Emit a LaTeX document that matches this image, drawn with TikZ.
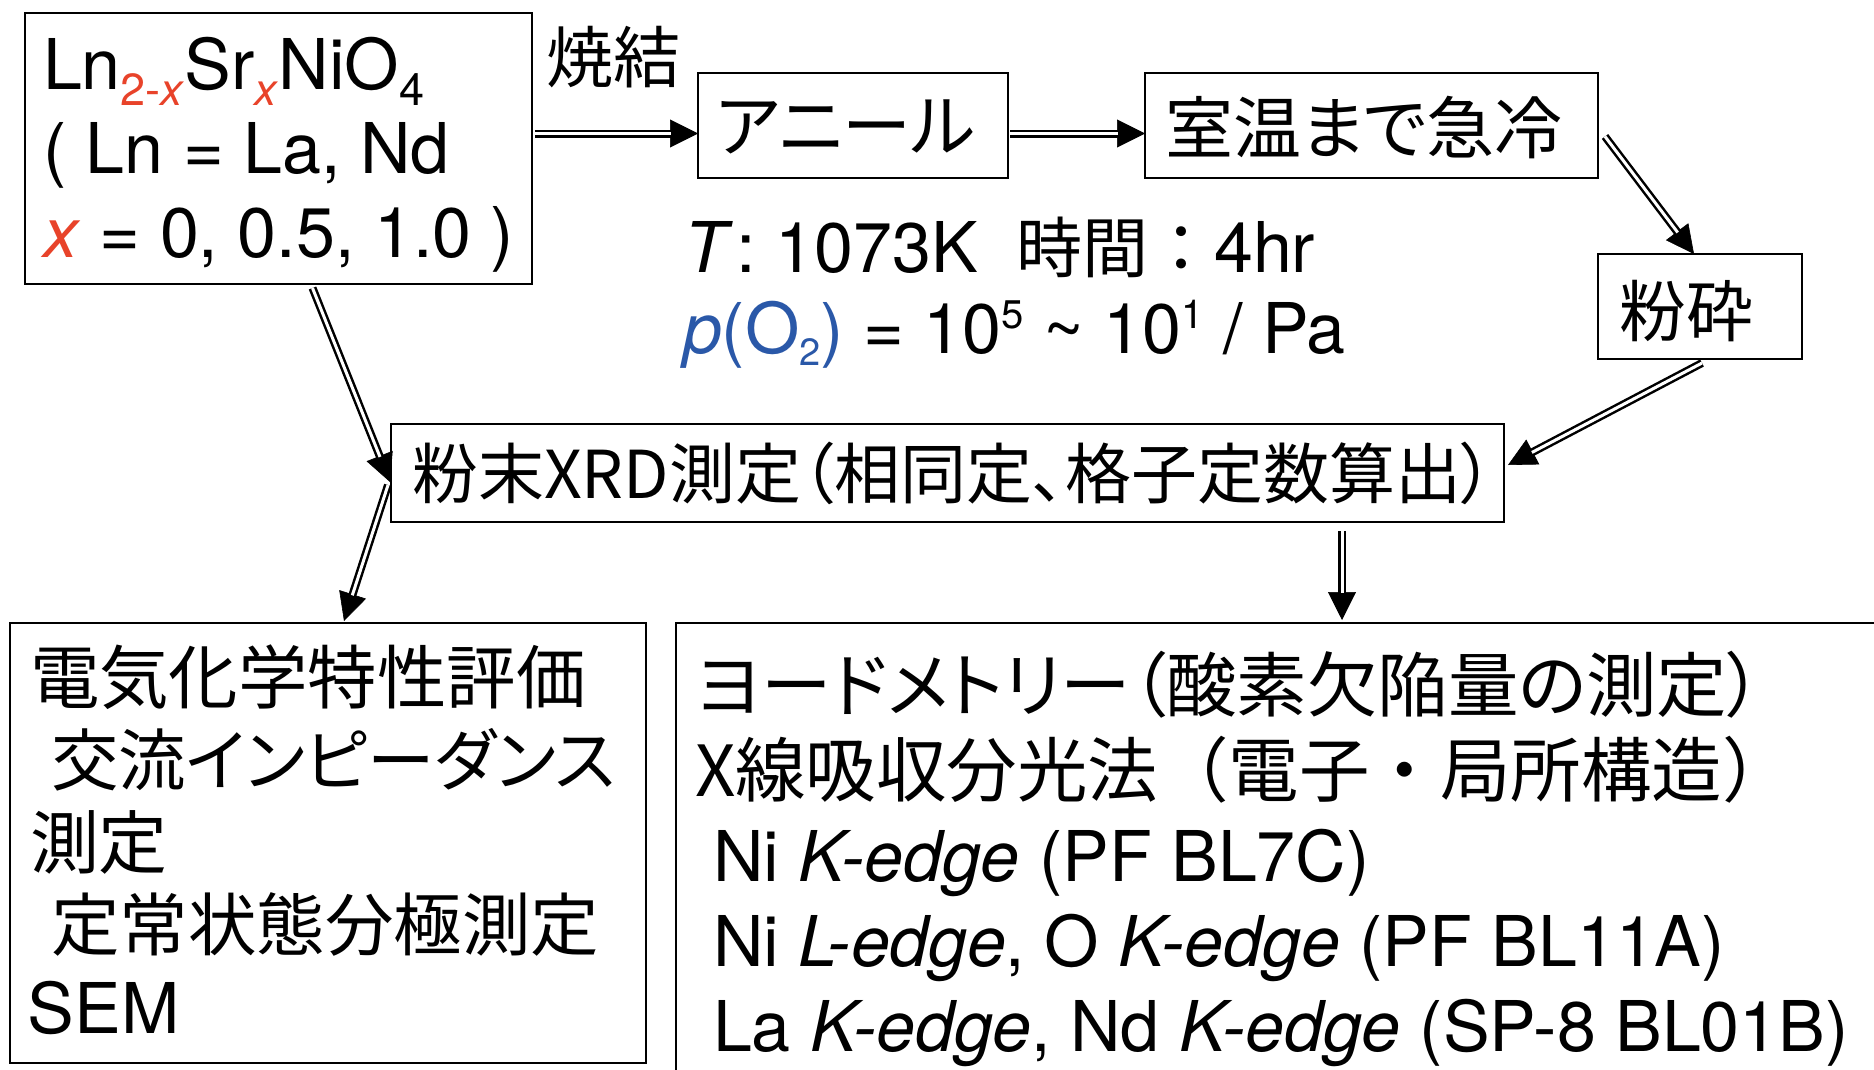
\documentclass[tikz,border=0pt]{standalone}
\usepackage{fontspec}
\setmainfont{TeX Gyre Heros}
\newfontfamily\jp[RawFeature=+palt]{Noto Sans CJK JP}
\newfontfamily\jpf{Noto Sans CJK JP}
\usetikzlibrary{arrows.meta,calc}
\definecolor{xred}{RGB}{232,67,42}
\definecolor{xblue}{RGB}{42,88,168}
\newcommand\setfs[1]{\fontsize{#1pt}{#1pt}\selectfont}
\newcommand\lsub[1]{\raisebox{-16pt}{\setfs{45}#1}}
\newcommand\psub[1]{\raisebox{-12pt}{\setfs{38}#1}}
\newcommand\psup[1]{\raisebox{25pt}{\setfs{40}#1}}
\begin{document}
\begin{tikzpicture}[x=1pt,y=-1pt,
  box/.style={draw, line width=2.5pt, inner sep=0pt, outer sep=0pt, anchor=north west},
  txt/.style={anchor=base west, inner sep=0pt, outer sep=0pt},
  darr/.style={line width=0.6pt, -{Triangle[length=28pt,width=28pt]},
    postaction={draw, -, double, double distance=3pt, line width=2.5pt, shorten >=27pt}}]
\path[use as bounding box, fill=white] (0,0) rectangle (1874,1069);

% boxes
\node[box, minimum width=507pt, minimum height=271pt] (A) at (25,13) {};
\node[box, minimum width=310pt, minimum height=105pt] (ann) at (698,73) {};
\node[box, minimum width=453pt, minimum height=105pt] (cool) at (1145,73) {};
\node[box, minimum width=204pt, minimum height=105pt] (crush) at (1598,254) {};
\node[box, minimum width=1113pt, minimum height=98pt] (xrd) at (391,424) {};
\node[box, minimum width=636pt, minimum height=440pt] (bl) at (10,623) {};
\node[box, minimum width=1300pt, minimum height=500pt] (br) at (676,623) {};

% texts
\node[txt] (tA) at (43,89) {\setfs{70}\vtop{\baselineskip=84pt\lineskiplimit=-1000pt\lineskip=0pt
  \hbox{Ln\lsub{\color{xred}2-\textit{x}}Sr\lsub{\color{xred}\textit{x}}NiO\lsub{4}}
  \hbox{( Ln = La, Nd}
  \hbox{\textcolor{xred}{\textit{x}} = 0, 0.5, 1.0 )}}};
\node[txt] (tsint) at (546,82) {\jp\setfs{67}焼結};
\node[txt] (tann) at (716,151) {\jp\setfs{69}アニール};
\node[txt] (tcool) at (1165,153) {\jp\setfs{68}室温まで急冷};
\node[txt] (tcrush) at (1619,336) {\jp\setfs{67}粉砕};
\node[txt] (txrd) at (412,498) {\jp\setfs{66}粉末XRD測定（相同定、格子定数算出）};
\node[txt] (tT) at (684,272) {\setfs{70}\textit{T}\hspace{4pt}: 1073K\hspace{38pt}{\jpf\setfs{66}時間：}4hr};
\node[txt] (tp) at (683,353) {\setfs{70}\textcolor{xblue}{\textit{p}(O\psub{2})} = 10\psup{5} \textasciitilde{} 10\psup{1} / Pa};
\node[txt] (tbl) at (30,703) {\vtop{\baselineskip=82.5pt\lineskiplimit=-1000pt\lineskip=0pt
  \hbox{\jp\setfs{69.5}電気化学特性評価}
  \hbox{\hskip21pt\jp\setfs{67.5}交流インピーダンス}
  \hbox{\jp\setfs{69}測定}
  \hbox{\hskip21pt\jp\setfs{68.5}定常状態分極測定}
  \hbox{\hskip-2pt\setfs{70}SEM}}};
\node[txt] (tbr) at (695,711) {\setfs{70}\vtop{\baselineskip=85pt\lineskiplimit=-1000pt\lineskip=0pt
  \hbox{\jp\setfs{70.5}ヨードメトリー（酸素欠陥量の測定）}
  \hbox{\jpf\setfs{70.5}X線吸収分光法（電子・局所構造）}
  \hbox{\hskip18pt Ni \textit{K-edge} (PF BL7C)}
  \hbox{\hskip18pt Ni \textit{L-edge}, O \textit{K-edge} (PF BL11A)}
  \hbox{\hskip18pt La \textit{K-edge}, Nd \textit{K-edge} (SP-8 BL01B)}}};

% connectors
\coordinate (vx) at (1342,0);
\draw[darr] ($(A.east |- ann.west)+(3,8)$) -- ($(ann.west)+(0,8)$);
\draw[darr] ($(ann.east)+(2,8)$) -- ($(cool.west)+(0,8)$);
\draw[darr] ($(cool.east)+(7,11)$) -- ($(crush.north)+(-6,0)$);
\draw[darr] ($(crush.south)+(2,4)$) -- ($(xrd.east)+(4,-8)$);
\draw[darr] ($(A.south)+(34,4)$) -- ($(xrd.west)+(-1,9)$);
\draw[darr] ($(xrd.west)+(-3,12)$) -- ($(bl.north)+(16,-2)$);
\draw[darr] ($(xrd.south -| vx)+(0,9)$) -- ($(br.north -| vx)+(0,-3)$);
\end{tikzpicture}
\end{document}
